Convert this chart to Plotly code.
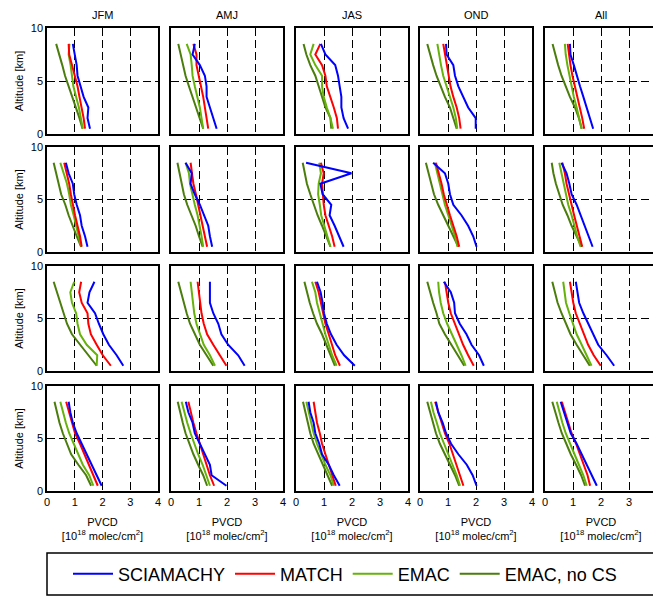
import plotly.graph_objects as go

seasons = ["JFM", "AMJ", "JAS", "OND", "All"]
altitude = [8.5, 7.5, 6.5, 5.5, 4.5, 3.5, 2.5, 1.5, 0.5]
x_ticks = [0, 1, 2, 3, 4]
y_ticks = [0, 5, 10]

# each row: one list per season (JFM, AMJ, JAS, OND, All), values from 8.5 km down to 0.5 km
scia_r1 = [[0.93,1.0,1.07,1.1,1.2,1.32,1.49,1.46,1.55],[0.85,0.77,1.03,1.21,1.27,1.27,1.39,1.5,1.63],
           [0.89,1.05,1.4,1.5,1.56,1.62,1.62,1.7,1.86],[0.93,0.95,1.19,1.25,1.37,1.54,1.72,1.99,1.99],
           [0.89,0.91,1.03,1.13,1.25,1.37,1.48,1.6,1.72]]
match_r1 = [[0.78,0.8,0.9,1.0,1.1,1.17,1.25,1.32,1.37],[0.8,0.91,0.91,1.0,1.07,1.15,1.21,1.27,1.33],
            [0.87,0.69,0.93,1.05,1.1,1.23,1.35,1.46,1.5],[0.83,0.89,0.95,1.01,1.09,1.19,1.31,1.4,1.45],
            [0.81,0.85,0.91,0.98,1.07,1.15,1.25,1.33,1.4]]
emac_r1 = [[0.81,0.78,0.85,0.9,0.95,1.05,1.15,1.22,1.29],[0.56,0.7,0.74,0.77,0.85,0.94,1.03,1.09,1.15],
           [0.63,0.51,0.69,0.93,0.93,0.99,1.1,1.23,1.32],[0.62,0.68,0.75,0.83,0.95,1.07,1.19,1.28,1.33],
           [0.71,0.74,0.8,0.87,0.95,1.03,1.13,1.22,1.31]]
emacncs_r1 = [[0.33,0.45,0.55,0.65,0.78,0.92,1.05,1.17,1.28],[0.26,0.34,0.44,0.52,0.64,0.77,0.91,1.03,1.15],
              [0.27,0.37,0.51,0.69,0.81,0.93,1.05,1.23,1.26],[0.26,0.36,0.47,0.59,0.74,0.89,1.07,1.19,1.31],
              [0.27,0.36,0.47,0.59,0.74,0.89,1.07,1.21,1.31]]

scia_r2 = [[0.68,0.78,0.93,0.98,1.07,1.19,1.25,1.37,1.46],[0.52,0.74,0.7,0.85,1.03,1.17,1.33,1.39,1.47],
           [0.36,1.98,0.87,0.95,1.26,1.2,1.38,1.54,1.7],[0.47,0.89,1.01,1.07,1.19,1.48,1.72,1.9,2.02],
           [0.59,0.77,0.87,0.95,1.13,1.27,1.42,1.54,1.7]]
match_r2 = [[0.62,0.72,0.8,0.86,0.93,1.01,1.1,1.19,1.25],[0.7,0.76,0.8,0.89,0.97,1.07,1.15,1.23,1.29],
            [0.89,0.99,0.93,0.95,0.99,1.05,1.17,1.29,1.38],[0.57,0.68,0.77,0.85,0.95,1.07,1.19,1.31,1.4],
            [0.62,0.71,0.77,0.85,0.95,1.04,1.13,1.22,1.33]]
emac_r2 = [[0.48,0.6,0.72,0.8,0.86,0.96,1.05,1.15,1.23],[0.52,0.64,0.68,0.76,0.85,0.95,1.03,1.09,1.15],
           [0.83,0.89,0.81,0.79,0.85,0.9,1.01,1.11,1.23],[0.53,0.62,0.71,0.81,0.89,1.01,1.13,1.25,1.34],
           [0.51,0.59,0.68,0.75,0.83,0.95,1.04,1.15,1.27]]
emacncs_r2 = [[0.24,0.32,0.42,0.51,0.66,0.78,0.92,1.07,1.23],[0.23,0.3,0.38,0.46,0.58,0.74,0.88,1.0,1.13],
              [0.24,0.31,0.39,0.51,0.63,0.77,0.93,1.08,1.23],[0.21,0.3,0.39,0.5,0.65,0.83,1.01,1.19,1.37],
              [0.24,0.3,0.39,0.5,0.63,0.8,0.95,1.13,1.31]]

scia_r3 = [[1.71,1.53,1.46,1.73,1.87,2.03,2.23,2.51,2.75],[1.39,1.39,1.39,1.51,1.69,1.8,2.04,2.4,2.63],
           [0.75,0.88,0.95,1.0,1.1,1.25,1.45,1.72,2.1],[0.85,1.1,1.22,1.25,1.42,1.66,1.84,2.11,2.28],
           [1.1,1.15,1.22,1.37,1.54,1.72,1.9,2.2,2.47]]
match_r3 = [[1.23,1.16,1.25,1.46,1.49,1.58,1.79,2.01,2.3],[0.95,1.0,1.03,1.09,1.17,1.29,1.51,1.74,1.98],
            [0.69,0.81,0.89,0.96,1.05,1.17,1.29,1.4,1.57],[0.89,0.95,1.01,1.1,1.25,1.4,1.54,1.72,1.92],
            [0.89,0.95,1.01,1.1,1.25,1.39,1.54,1.74,1.99]]
emac_r3 = [[0.98,0.84,0.9,1.05,1.1,1.19,1.43,1.81,1.79],[0.7,0.74,0.77,0.83,0.91,1.03,1.17,1.39,1.57],
           [0.57,0.69,0.75,0.85,0.93,1.05,1.17,1.29,1.45],[0.65,0.68,0.74,0.83,0.97,1.13,1.31,1.48,1.63],
           [0.65,0.69,0.75,0.87,0.99,1.13,1.31,1.48,1.66]]
emacncs_r3 = [[0.24,0.36,0.48,0.6,0.72,0.9,1.19,1.49,1.79],[0.26,0.36,0.44,0.56,0.68,0.85,1.03,1.27,1.51],
              [0.3,0.39,0.49,0.61,0.75,0.93,1.08,1.25,1.39],[0.26,0.36,0.47,0.59,0.69,0.89,1.13,1.37,1.58],
              [0.26,0.36,0.45,0.59,0.75,0.91,1.13,1.37,1.6]]

scia_r4 = [[0.78,0.84,0.93,1.07,1.25,1.43,1.61,1.79,1.97],[0.53,0.62,0.77,0.85,1.03,1.21,1.39,1.45,1.98],
           [0.45,0.51,0.63,0.69,0.83,0.93,1.17,1.35,1.56],[0.57,0.65,0.81,0.93,1.11,1.37,1.67,1.88,2.02],
           [0.56,0.68,0.8,0.92,1.13,1.31,1.49,1.67,1.85]]
match_r4 = [[0.69,0.8,0.9,1.01,1.19,1.35,1.49,1.65,1.83],[0.62,0.7,0.8,0.91,1.03,1.15,1.27,1.39,1.54],
            [0.63,0.69,0.75,0.85,0.93,1.05,1.18,1.3,1.42],[0.54,0.65,0.77,0.89,1.05,1.17,1.31,1.43,1.55],
            [0.6,0.71,0.83,0.95,1.11,1.25,1.39,1.52,1.61]]
emac_r4 = [[0.48,0.57,0.68,0.8,0.96,1.11,1.29,1.52,1.67],[0.38,0.47,0.58,0.7,0.83,0.97,1.13,1.27,1.39],
           [0.37,0.45,0.54,0.63,0.75,0.9,1.05,1.23,1.35],[0.39,0.48,0.6,0.71,0.86,1.01,1.17,1.31,1.43],
           [0.42,0.51,0.62,0.74,0.89,1.05,1.21,1.37,1.49]]
emacncs_r4 = [[0.27,0.36,0.45,0.57,0.72,0.87,1.13,1.41,1.59],[0.24,0.32,0.42,0.52,0.65,0.8,0.97,1.15,1.29],
              [0.25,0.33,0.42,0.51,0.63,0.79,0.95,1.13,1.29],[0.26,0.36,0.45,0.57,0.71,0.89,1.07,1.25,1.4],
              [0.26,0.36,0.48,0.6,0.75,0.92,1.11,1.29,1.43]]

series_names = ["SCIAMACHY", "MATCH", "EMAC", "EMAC, no CS"]
series_colors = ["#0000ff", "#ff0000", "#66b20a", "#4b7d0c"]
rows_data = [
    [scia_r1, match_r1, emac_r1, emacncs_r1],
    [scia_r2, match_r2, emac_r2, emacncs_r2],
    [scia_r3, match_r3, emac_r3, emacncs_r3],
    [scia_r4, match_r4, emac_r4, emacncs_r4],
]

# the page body has an 8px margin; the figure starts 8px in from the window corner
OFF = 8
W, H = 661, 598 - OFF


def px(xp):
    return (xp - OFF) / W


def py(yp):
    return 1 - (yp - OFF) / H


# panel pixel boxes (window coordinates)
col_px = [(47, 158), (171, 283), (296, 408), (420, 532), (545, 657)]
row_px = [(28, 134), (147, 252), (266, 371), (386, 491)]

FONT = "Liberation Sans, Arial, sans-serif"
fig = go.Figure()
layout = dict(
    width=W, height=H, margin=dict(l=0, r=0, t=0, b=0, autoexpand=False),
    paper_bgcolor="white", plot_bgcolor="white",
    font=dict(family=FONT, size=11, color="black"),
    showlegend=True,
)
annotations = []
k = 0
for r in range(4):
    for c in range(5):
        k += 1
        xa = "xaxis" if k == 1 else f"xaxis{k}"
        ya = "yaxis" if k == 1 else f"yaxis{k}"
        xr = "x" if k == 1 else f"x{k}"
        yr = "y" if k == 1 else f"y{k}"
        x0, x1 = col_px[c]
        y0, y1 = row_px[r]
        layout[xa] = dict(
            domain=[px(x0), px(x1)], anchor=yr, range=[0, 4], tickvals=x_ticks,
            showticklabels=(r == 3), showgrid=True, gridcolor="black", gridwidth=1,
            griddash="8px,4px", zeroline=False, showline=True, mirror=True,
            linecolor="black", linewidth=1.5, ticks="", tickfont=dict(size=11),
            automargin=False, ticklabeloverflow="allow",
        )
        layout[ya] = dict(
            domain=[py(y1), py(y0)], anchor=xr, range=[0, 10], tickvals=y_ticks,
            showticklabels=(c == 0), showgrid=True, gridcolor="black", gridwidth=1,
            griddash="8px,4px", zeroline=False, showline=True, mirror=True,
            linecolor="black", linewidth=1.5, ticks="", tickfont=dict(size=11),
            automargin=False,
        )
        if r == 3:
            layout[xa]["title"] = dict(text="PVCD<br>[10<sup>18</sup> molec/cm<sup>2</sup>]",
                                       font=dict(size=11), standoff=11)
        if c == 0:
            layout[ya]["title"] = dict(text="Altitude [km]", font=dict(size=11), standoff=5)
        for s in [3, 2, 1, 0]:
            fig.add_trace(go.Scatter(
                x=rows_data[r][s][c], y=altitude, mode="lines",
                line=dict(color=series_colors[s], width=2),
                name=series_names[s], legendrank=s + 1, legendgroup=series_names[s],
                showlegend=(k == 1), xaxis=xr, yaxis=yr,
            ))
for c, name in enumerate(seasons):
    x0, x1 = col_px[c]
    annotations.append(dict(text=name, x=px((x0 + x1) / 2), y=py(15), xref="paper",
                            yref="paper", showarrow=False, font=dict(size=11),
                            xanchor="center", yanchor="middle"))
# last tick label of the bottom-right panel (plotly drops it at the page edge)
annotations.append(dict(text=str(x_ticks[-1]), x=x_ticks[-1], xref="x20", y=py(502),
                        yref="paper", showarrow=False, font=dict(size=11),
                        xanchor="center", yanchor="middle"))
layout["annotations"] = annotations
layout["legend"] = dict(orientation="h", x=px(345), y=py(574), xanchor="center",
                        yanchor="middle", font=dict(size=18), bgcolor="rgba(0,0,0,0)",
                        traceorder="grouped", itemwidth=40)
layout["shapes"] = [dict(type="rect", xref="paper", yref="paper", x0=px(47), x1=px(657),
                         y0=py(595), y1=py(553), line=dict(color="black", width=1.5))]
fig.update_layout(**layout)
fig.write_html("out.html")
